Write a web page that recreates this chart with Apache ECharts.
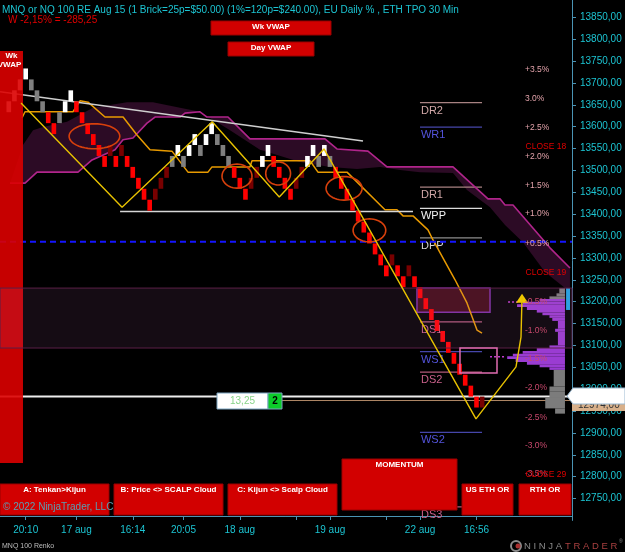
<!DOCTYPE html>
<html>
<head>
<meta charset="utf-8">
<script src="https://cdn.jsdelivr.net/npm/echarts@6/dist/echarts.min.js"></script>
<style>
html, body { margin: 0; padding: 0; background: #000; }
#chart { width: 625px; height: 552px; }
</style>
</head>
<body>
<div id="chart"></div>
<script>
// renko bricks, 25 points each: x index, brick number above brickBase, colour key
const brickBase = 12958;
const brickSize = 25;
const brickIndex = [];
for (let i = -3; i <= 81; i++) brickIndex.push(i);
const brickLevel = [27, 28, 29, 30, 29, 28, 27, 26, 25, 26, 27, 28,
    27, 26, 25, 24, 23, 22, 23, 22, 23, 22, 21, 20, 19, 18,
    19, 20, 21, 22, 23, 22, 23, 24, 23, 24, 25, 24, 23, 22,
    21, 20, 19, 20, 21, 22, 23, 22, 21, 20, 19, 20, 21, 22, 23, 22, 23, 22,
    21, 20, 19, 18, 17, 16, 15, 14, 13, 12, 13, 12, 11, 12, 11,
    10, 9, 8, 7, 6, 5, 4, 3, 2, 1, 0, 0];
const brickColor = ('wwww' + 'ggg' + 'rr' + 'g' + 'ww' + 'rrrrrr' + 'drd' + 'rrrrr' + 'ddd' +
    'gwgwwgwwggg' + 'rrr' + 'dd' + 'ww' + 'rrrr' + 'dd' + 'wwgwg' + 'rrrrrrrrrr' + 'drrdr' +
    'rrrrrrrrrrr' + 'd').split('');
const brickFill = { w: '#ffffff', g: '#7f7f7f', r: '#ff0000', d: '#780000' };

// ichimoku style cloud: magenta edge and the unlined edge
const cloudEdgeX = [-2.79, -0.12, 2.01, 9.28, 11.77, 15.85, 17.27, 19.04, 21.53, 22.95, 27.39, 28.27, 30.93,
    32.17, 35.9, 39.8, 53.11, 55.24, 60.74, 64.11, 75.83, 82.04, 84.17, 85.06, 86.48, 93.04, 96.59];
const cloudEdgeP = [13471, 13471, 13496, 13496, 13524, 13547, 13570, 13574, 13608, 13622, 13622, 13631, 13634,
    13622, 13622, 13572, 13572, 13549, 13544, 13508, 13508, 13435, 13435, 13421, 13421, 13323, 13277];
const cloudOtherX = [-0.48, 1.3, 3.07, 7.33, 11.94, 17.98, 22.59, 27.38, 30.93, 36.26, 41.58, 48.68, 54.01,
    58.8, 62.88, 66.43, 69.97, 75.83, 78.31, 82.4, 85.06, 88.25, 92.15, 96.59];
const cloudOtherP = [13558, 13592, 13599, 13611, 13643, 13656, 13656, 13643, 13634, 13592, 13547, 13519, 13508,
    13503, 13508, 13501, 13496, 13494, 13455, 13416, 13375, 13336, 13268, 13222];

// orange kijun line
const kijunX = [-0.66, -0.12, 8.39, 9.64, 11.06, 14.07, 17.28, 19.75, 22.06, 25.96, 28.8, 32.35, 33.06, 39.8,
    40.16, 50.45, 51.87, 57.02, 63.76, 65.89, 66.96, 68.73, 71.39, 72.28, 76.19, 78.31, 80.09, 80.98];
const kijunP = [13620, 13634, 13634, 13659, 13656, 13622, 13622, 13581, 13547, 13544, 13496, 13496, 13508, 13508,
    13522, 13522, 13496, 13496, 13410, 13410, 13396, 13396, 13364, 13341, 13250, 13197, 13135, 13128];

// yellow zigzag
const zigX = [-0.83, 17.1, 33.1, 45.0, 52.94, 79.91, 87.01, 87.9, 88.08];
const zigP = [13654, 13416, 13611, 13439, 13549, 12932, 13051, 13119, 13209];

// straight lines
const trendX = [-4.56, 59.86];
const trendP = [13680, 13567];
const shelfX = [16.75, 68.73];
const shelfP = [13406, 13406];
const dashedLevel = 13337;
const lastPrice = 12983.25;
const entryPrice = 12974;

// pivot levels
const pivotNames = ['DR2', 'WR1', 'DR1', 'WPP', 'DPP', 'DS1', 'WS1', 'DS2', 'WS2', 'DS3'];
const pivotPrices = [13655, 13599, 13462, 13413, 13346, 13154, 13086, 13039, 12901, 12731];
const pivotFrom = 69.97, pivotTo = 80.98;

// daily % levels and closes
const pctText = ['+3.5%', '3.0%', '+2.5%', '+2.0%', '+1.5%', '+1.0%', '+0.5%',
    '-0.5%', '-1.0%', '-1.5%', '-2.0%', '-2.5%', '-3.0%', '-3.5%'];
const pctPrice = [13730, 13663, 13597, 13531, 13464, 13400, 13333, 13200, 13133, 13069, 13003, 12934, 12870, 12806];
const closeText = ['CLOSE 18 A', 'CLOSE 19 A', 'CLOSE 29 J'];
const closePrice = [13554, 13267, 12805];

// swing circles: centre, half width (bricks), half height (points)
const ringX = [12.2, 37.5, 44.8, 56.5, 61.0];
const ringP = [13578, 13487, 13493, 13459, 13363];
const ringW = [4.5, 2.66, 2.2, 3.2, 2.9];
const ringH = [28.6, 27.4, 26.3, 27, 26.3];

// zones
const zoneLow = 13094, zoneHigh = 13231;
const box1 = [69.44, 82.4, 13176, 13231];
const box2 = [77.07, 83.64, 13037, 13094];
const vwapBar = [-4.56, -0.48, 12831, 13773];

// TPO profile (size in quarter bricks), right aligned
const profileLow = [13219, 13212, 13206, 13200, 13194, 13188, 13181, 13175, 13169, 13163, 13156, 13138, 13131, 13100,
    13094, 13087, 13081, 13075, 13069, 13062, 13056, 13050, 13044, 13006, 12994, 12981, 12956, 12944];
const profileHigh = [13231, 13219, 13212, 13206, 13200, 13194, 13188, 13181, 13175, 13169, 13163, 13156, 13138, 13131,
    13100, 13094, 13087, 13081, 13075, 13069, 13062, 13056, 13050, 13044, 13006, 12994, 12981, 12956];
const profileSize = [4, 6, 11, 18, 30, 34, 27, 20, 16, 11, 9, 5, 7, 5,
    11, 20, 30, 37, 41, 35, 27, 18, 11, 8, 11, 11, 14, 7];
const profileKind = ['g', 'g', 'g', 'p', 'p', 'p', 'p', 'p', 'p', 'p', 'p', 'p', 'p', 'p',
    'p', 'p', 'p', 'p', 'p', 'p', 'p', 'p', 'p', 'g', 'g', 'g', 'g', 'g'];
const profileRight = 95.7;
const dotFrom = [82.4, 85.6], dotTo = [85.1, 87.4], dotPrice = [13074, 13199];

// time axis
const timeTickIndex = [0, 9, 19, 28, 38, 48, 54, 64, 70, 80];
const timeTickLabel = ['20:10', '17 aug', '16:14', '20:05', '18 aug', '', '19 aug', '', '22 aug', '16:56'];

const xMin = -4.56, xMax = 96.95;
const cyan = '#1cc4d2';
const axisBlue = '#4a94b4';

function zip(xs, ys) { return xs.map((x, n) => [x, ys[n]]); }

function lineSeries(xs, ys, color, width, type, z) {
    return {
        type: 'line', data: zip(xs, ys), symbol: 'none', silent: true, z: z,
        lineStyle: { color: color, width: width, type: type || 'solid' }
    };
}

function rectOf(api, x0, x1, p0, p1) {
    const a = api.coord([x0, p0]);
    const b = api.coord([x1, p1]);
    return {
        x: Math.min(a[0], b[0]), y: Math.min(a[1], b[1]),
        width: Math.abs(b[0] - a[0]), height: Math.abs(b[1] - a[1])
    };
}

function pivotColors(name) {
    if (name === 'WPP') return ['#dcdcdc', '#f2f2f2'];
    if (name === 'DPP') return ['#8c8c8c', '#d8d8d8'];
    if (name[0] === 'W') return ['#4646aa', '#5454dc'];
    if (name[1] === 'R') return ['#a88282', '#d2a8a8'];
    return ['#b05878', '#c8608a'];
}

const series = [
    {   // cloud fill
        type: 'custom', z: 1, silent: true, data: [[0, 13500]],
        renderItem: function (params, api) {
            const pts = [];
            cloudEdgeX.forEach((x, n) => pts.push(api.coord([x, cloudEdgeP[n]])));
            for (let n = cloudOtherX.length - 1; n >= 0; n--) pts.push(api.coord([cloudOtherX[n], cloudOtherP[n]]));
            return { type: 'polygon', shape: { points: pts }, style: { fill: '#2c0b25' } };
        }
    },
    {   // dark red box with purple border
        type: 'custom', z: 2, silent: true, data: [box1],
        renderItem: function (params, api) {
            return { type: 'rect', shape: rectOf(api, api.value(0), api.value(1), api.value(2), api.value(3)),
                style: { fill: '#3e0a12', stroke: '#7c2ea2', lineWidth: 1.5 } };
        }
    },
    lineSeries(cloudEdgeX, cloudEdgeP, '#b0258b', 1.6, 'solid', 3),
    lineSeries(kijunX, kijunP, '#e89a00', 1.5, 'solid', 3),
    lineSeries(trendX, trendP, '#cfcfcf', 1.5, 'solid', 3),
    lineSeries(shelfX, shelfP, '#d6d6d6', 1.5, 'solid', 3),
    lineSeries([xMin, xMax], [dashedLevel, dashedLevel], '#1414ff', 2, [6, 4], 3),
    lineSeries([45.5, xMax], [entryPrice, entryPrice], '#b08866', 1, 'solid', 3),
    lineSeries([xMin, xMax], [lastPrice, lastPrice], '#eeeeee', 2, 'solid', 3),
    {   // pivot levels
        type: 'custom', z: 3, silent: true,
        data: pivotPrices.map(p => [pivotFrom, p]),
        renderItem: function (params, api) {
            const a = api.coord([pivotFrom, api.value(1)]);
            const b = api.coord([pivotTo, api.value(1)]);
            const c = pivotColors(pivotNames[params.dataIndex]);
            return { type: 'group', children: [
                { type: 'line', shape: { x1: a[0], y1: a[1], x2: b[0], y2: b[1] }, style: { stroke: c[0], lineWidth: 1.2 } },
                { type: 'text', x: a[0] + 1, y: a[1] + 8, style: { text: pivotNames[params.dataIndex], fill: c[1],
                    fontSize: 11, fontFamily: 'Arial', align: 'left', verticalAlign: 'middle' } }
            ] };
        }
    },
    {   // renko bricks
        type: 'custom', z: 4, silent: true,
        data: brickIndex.map((x, n) => [x, brickBase + brickSize * brickLevel[n]]),
        renderItem: function (params, api) {
            const i = api.value(0), lo = api.value(1);
            const top = api.coord([i, lo + brickSize]);
            const bot = api.coord([i, lo]);
            const w = api.size([1, 0])[0] * 0.82;
            return { type: 'rect', shape: { x: top[0] - w / 2, y: top[1], width: w, height: bot[1] - top[1] },
                style: { fill: brickFill[brickColor[params.dataIndex]] } };
        }
    },
    {   // profile
        type: 'custom', z: 4, silent: true,
        data: profileLow.map((p, n) => [profileRight - profileSize[n] / 4, p, profileRight, profileHigh[n]]),
        renderItem: function (params, api) {
            const k = profileKind[params.dataIndex];
            return { type: 'rect', shape: rectOf(api, api.value(0), api.value(2), api.value(1), api.value(3)),
                style: { fill: k === 'p' ? '#9a3cd2' : '#7c7c7c' } };
        }
    },
    {   // blue marker and dotted profile lines
        type: 'custom', z: 4, silent: true, data: [[95.9, 13181, 96.6, 13231]],
        renderItem: function (params, api) {
            const kids = [{ type: 'rect', shape: rectOf(api, api.value(0), api.value(2), api.value(1), api.value(3)),
                style: { fill: '#1aa8e8' } }];
            dotFrom.forEach((x, n) => {
                const a = api.coord([x, dotPrice[n]]), b = api.coord([dotTo[n], dotPrice[n]]);
                kids.push({ type: 'line', shape: { x1: a[0], y1: a[1], x2: b[0], y2: b[1] },
                    style: { stroke: '#c23cd0', lineWidth: 1.5, lineDash: [2, 2] } });
            });
            return { type: 'group', children: kids };
        }
    },
    {   // weekly vwap bar
        type: 'custom', z: 5, silent: true, data: [vwapBar],
        renderItem: function (params, api) {
            const r = rectOf(api, api.value(0), api.value(1), api.value(2), api.value(3));
            return { type: 'group', children: [
                { type: 'rect', shape: r, style: { fill: '#dc0000', opacity: 0.9 } },
                { type: 'text', x: r.x + r.width / 2, y: r.y + 5, style: { text: 'Wk', fill: '#fff', fontSize: 8,
                    fontWeight: 'bold', fontFamily: 'Arial', align: 'center', verticalAlign: 'middle' } },
                { type: 'text', x: r.x + r.width / 2 - 2, y: r.y + 14, style: { text: 'VWAP', fill: '#fff', fontSize: 8,
                    fontWeight: 'bold', fontFamily: 'Arial', align: 'center', verticalAlign: 'middle' } }
            ] };
        }
    },
    {   // zone band
        type: 'custom', z: 6, silent: true, data: [[xMin, zoneLow, xMax, zoneHigh]],
        renderItem: function (params, api) {
            return { type: 'rect', shape: rectOf(api, api.value(0), api.value(2), api.value(1), api.value(3)),
                style: { fill: 'rgba(190,110,180,0.11)', stroke: '#5a1f46', lineWidth: 1 } };
        }
    },
    {   // pink box
        type: 'custom', z: 6, silent: true, data: [box2],
        renderItem: function (params, api) {
            return { type: 'rect', shape: rectOf(api, api.value(0), api.value(1), api.value(2), api.value(3)),
                style: { fill: 'none', stroke: '#e06cb0', lineWidth: 1.5 } };
        }
    },
    {   // swing circles
        type: 'custom', z: 7, silent: true, data: zip(ringX, ringP),
        renderItem: function (params, api) {
            const n = params.dataIndex;
            const c = api.coord([ringX[n], ringP[n]]);
            const s = api.size([ringW[n], ringH[n]]);
            const pts = [];
            for (let k = 0; k < 48; k++) {
                const t = k / 48 * Math.PI * 2;
                pts.push([c[0] + s[0] * Math.cos(t), c[1] + s[1] * Math.sin(t)]);
            }
            return { type: 'polygon', shape: { points: pts }, style: { fill: 'none', stroke: '#d8400c', lineWidth: 1.6 } };
        }
    },
    lineSeries(zigX, zigP, '#e8c200', 1.4, 'solid', 8),
    {   // arrow head on zigzag
        type: 'custom', z: 8, silent: true, data: [[zigX[zigX.length - 1], zigP[zigP.length - 1]]],
        renderItem: function (params, api) {
            const t = api.coord([api.value(0), api.value(1)]);
            return { type: 'polygon', shape: { points: [[t[0], t[1] - 4], [t[0] - 6, t[1] + 5], [t[0] + 6, t[1] + 5]] },
                style: { fill: '#f0c800' } };
        }
    },
    {   // daily % labels
        type: 'custom', z: 9, silent: true, data: pctPrice.map(p => [88.6, p]),
        renderItem: function (params, api) {
            const c = api.coord([api.value(0), api.value(1)]);
            const txt = pctText[params.dataIndex];
            return { type: 'text', x: c[0], y: c[1], style: { text: txt, fill: txt[0] === '-' ? '#c8486c' : '#e2a2aa',
                fontSize: 8.5, fontFamily: 'Arial', align: 'left', verticalAlign: 'middle' } };
        }
    },
    {   // close labels
        type: 'custom', z: 9, silent: true, data: closePrice.map(p => [88.7, p]),
        renderItem: function (params, api) {
            const c = api.coord([api.value(0), api.value(1)]);
            return { type: 'text', x: c[0], y: c[1], style: { text: closeText[params.dataIndex], fill: '#e00000',
                fontSize: 8.5, fontFamily: 'Arial', align: 'left', verticalAlign: 'middle',
                width: 45, overflow: 'truncate', ellipsis: '' } };
        }
    }
];
series.forEach(s => { s.xAxisIndex = 0; s.yAxisIndex = 0; s.animation = false; });

function text(x, y, s, fill, size, extra) {
    return { type: 'text', x: x, y: y, z: 100,
        style: Object.assign({ text: s, fill: fill, fontSize: size, fontFamily: 'Arial', align: 'left', verticalAlign: 'middle' }, extra || {}) };
}
function button(x, y, w, h, label) {
    return { type: 'group', z: 100, children: [
        { type: 'rect', z: 100, shape: { x: x, y: y, width: w, height: h }, style: { fill: '#d20000', stroke: '#9a0000', lineWidth: 1 } },
        text(x + w / 2, y + 6, label, '#ffffff', 8, { align: 'center', fontWeight: 'bold' })
    ] };
}

const graphics = [
    text(2, 10, 'MNQ or NQ 100 RE Aug 15 (1 Brick=25p=$50.00) (1%=120p=$240.00), EU Daily % , ETH TPO 30 Min', cyan, 10),
    text(8, 20, 'W -2,15% = -285,25', '#e00000', 10),
    button(211, 21, 120, 14, 'Wk VWAP'),
    button(228, 42, 86, 14, 'Day VWAP'),
    button(0, 484, 109, 31, 'A: Tenkan>Kijun'),
    button(114, 484, 109, 31, 'B: Price <> SCALP Cloud'),
    button(228, 484, 109, 31, 'C: Kijun <> Scalp Cloud'),
    button(342, 459, 115, 51, 'MOMENTUM'),
    button(462, 484, 51, 31, 'US ETH OR'),
    button(519, 484, 52, 31, 'RTH OR'),
    text(3, 507, '\u00a9 2022 NinjaTrader, LLC', '#5b9db2', 10),
    text(2, 546, 'MNQ 100 Renko', '#bdbdbd', 7),
    // price tags on the axis
    { type: 'rect', z: 100, shape: { x: 572, y: 399, width: 53, height: 12 }, style: { fill: '#d8b08a' } },
    text(578, 405, '12974,00', '#333', 10),
    { type: 'polygon', z: 101, shape: { points: [[567, 396], [573, 388], [625, 388], [625, 404], [573, 404]] },
        style: { fill: '#ffffff', stroke: '#9ab8d0', lineWidth: 1 } },
    text(578, 396.5, '12983,25', '#000', 10, { z: 102 }),
    // position box on the price line
    { type: 'rect', z: 100, shape: { x: 217, y: 393, width: 51, height: 16 }, style: { fill: '#ffffff', stroke: '#7aa4c0', lineWidth: 1 } },
    text(242.5, 401, '13,25', '#88d488', 10, { align: 'center' }),
    { type: 'rect', z: 100, shape: { x: 268, y: 393, width: 14, height: 16 }, style: { fill: '#0ccc2a', stroke: '#7aa4c0', lineWidth: 1 } },
    text(275, 401, '2', '#000', 10, { align: 'center', fontWeight: 'bold' }),
    // logo
    { type: 'circle', z: 100, shape: { cx: 516, cy: 546, r: 5 }, style: { fill: 'none', stroke: '#8a8a8a', lineWidth: 2 } },
    { type: 'circle', z: 100, shape: { cx: 518, cy: 546, r: 2.5 }, style: { fill: '#a83030' } },
    text(524, 546, 'N I N J A', '#8a8a8a', 9.5),
    text(565, 546, 'T R A D E R', '#a84040', 9.5),
    text(619, 542, '\u00ae', '#8a8a8a', 5)
];

const option = {
    backgroundColor: '#000000',
    animation: false,
    textStyle: { fontFamily: 'Arial' },
    grid: [
        { left: 0, right: 53, top: 0, bottom: 31.6 },
        { left: 0, right: 53, top: 0, bottom: 36 }
    ],
    xAxis: [
        { type: 'value', gridIndex: 0, min: xMin, max: xMax, show: false },
        {
            type: 'value', gridIndex: 1, min: xMin, max: xMax,
            axisLine: { show: true, onZero: false, lineStyle: { color: axisBlue, width: 1 } },
            axisTick: { show: true, length: 4, lineStyle: { color: axisBlue }, customValues: timeTickIndex },
            axisLabel: {
                color: cyan, fontSize: 10, margin: 9,
                customValues: timeTickIndex.filter((v, n) => timeTickLabel[n] !== ''),
                formatter: v => timeTickLabel[timeTickIndex.indexOf(v)] || ''
            },
            splitLine: { show: false }
        }
    ],
    yAxis: [
        {
            type: 'value', gridIndex: 0, position: 'right', min: 12700, max: 13889.49, interval: 50,
            axisLine: { show: true, onZero: false, lineStyle: { color: axisBlue, width: 1 } },
            axisTick: { show: true, length: 4, lineStyle: { color: axisBlue } },
            axisLabel: { color: cyan, fontSize: 10, margin: 8, showMinLabel: false, showMaxLabel: false,
                formatter: v => v.toFixed(2).replace('.', ',') },
            splitLine: { show: false }
        },
        { type: 'value', gridIndex: 1, min: 0, max: 1, show: false }
    ],
    series: series,
    graphic: graphics
};

const chart = echarts.init(document.getElementById('chart'), null, { devicePixelRatio: 1 });
chart.setOption(option);
</script>
</body>
</html>
